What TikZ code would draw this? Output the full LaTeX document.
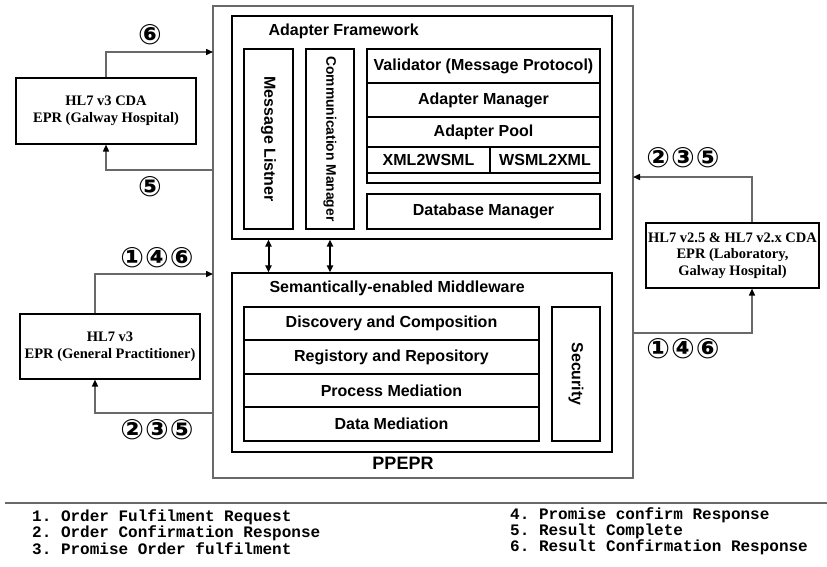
\documentclass[tikz,border=0pt]{standalone}
\usepackage{fontspec}
\setmainfont{Liberation Serif}
\setsansfont{Liberation Sans}
\setmonofont{Liberation Mono}
\newfontfamily\circfont{DejaVu Sans}
\usetikzlibrary{arrows.meta}
\definecolor{frameGray}{RGB}{105,105,105}

\begin{document}
\begin{tikzpicture}[x=1pt,y=-1pt,
  outerbox/.style={draw=frameGray, line width=1.5pt, inner sep=0pt},
  layerbox/.style={draw, line width=1.1pt, inner sep=0pt, font=\sffamily\bfseries\fontsize{16}{19}\selectfont},
  sidebox/.style={draw, line width=1.1pt, inner sep=0pt, align=center, font=\rmfamily\bfseries\fontsize{14.5}{16.5}\selectfont},
  conn/.style={draw=frameGray, line width=1.5pt, -{Triangle[length=7pt,width=6pt,color=black]}},
  dbl/.style={line width=2pt, {Triangle[length=7pt,width=6pt]}-{Triangle[length=7pt,width=6pt]}},
  steps/.style={font=\circfont\bfseries\fontsize{28}{28}\selectfont, inner sep=0pt},
  legend/.style={anchor=west, inner sep=0pt, font=\ttfamily\bfseries\fontsize{16}{18}\selectfont}]
\useasboundingbox (0,0) rectangle (827,566);

% PPEPR frame
\node[outerbox, minimum width=420pt, minimum height=472pt] (ppepr) at (423,242) {};
\node[font=\sffamily\bfseries\fontsize{18}{20}\selectfont] (ppeprlbl) at (403,463) {PPEPR};

% Adapter framework
\node[layerbox, minimum width=380pt, minimum height=223pt] (af) at (422,127.5) {};
\node[layerbox, draw=none, anchor=west] (aflbl) at (268,31) {Adapter Framework};
\node[layerbox, rotate=-90, minimum width=180pt, minimum height=49pt] (ml) at (268.5,139) {Message Listner};
\node[layerbox, rotate=-90, minimum width=180pt, minimum height=48pt, font=\sffamily\bfseries\fontsize{13.8}{16}\selectfont] (cm) at (330,139) {Communication Manager};
\node[layerbox, minimum width=233pt, minimum height=34pt] (val) at (483.5,66) {Validator (Message Protocol)};
\node[layerbox, minimum width=233pt, minimum height=34pt] (am) at (483.5,100) {Adapter Manager};
\node[layerbox, minimum width=233pt, minimum height=30pt] (ap) at (483.5,132) {Adapter Pool};
\node[layerbox, minimum width=123pt, minimum height=26pt] (x2w) at (428.5,160) {XML2WSML};
\node[layerbox, minimum width=110pt, minimum height=26pt] (w2x) at (545,160) {WSML2XML};
\node[layerbox, minimum width=233pt, minimum height=10pt] (apgap) at (483.5,178) {};
\node[layerbox, minimum width=233pt, minimum height=35pt] (db) at (483.5,211.5) {Database Manager};

% Semantic middleware
\node[layerbox, minimum width=380pt, minimum height=179pt] (mw) at (422,362.5) {};
\node[layerbox, draw=none, anchor=west] (mwlbl) at (269,288) {Semantically-enabled Middleware};
\node[layerbox, minimum width=295pt, minimum height=33pt] (dc) at (391.5,323.5) {Discovery and Composition};
\node[layerbox, minimum width=295pt, minimum height=34pt] (rr) at (391.5,357) {Registory and Repository};
\node[layerbox, minimum width=295pt, minimum height=33pt] (pm) at (391.5,390.5) {Process Mediation};
\node[layerbox, minimum width=295pt, minimum height=34pt] (dm) at (391.5,424) {Data Mediation};
\node[layerbox, rotate=-90, minimum width=134pt, minimum height=48pt] (sec) at (576,374) {Security};

% Between the two layers
\draw[dbl] (af.south -| ml) -- (mw.north -| ml);
\draw[dbl] (af.south -| cm) -- (mw.north -| cm);

% EPR systems
\node[sidebox, minimum width=180pt, minimum height=66pt] (galway) at (106,111) {HL7 v3 CDA\\EPR (Galway Hospital)};
\node[sidebox, minimum width=180pt, minimum height=65pt] (gp) at (110,346.5) {HL7 v3\\EPR (General Practitioner)};
\node[sidebox, minimum width=173pt, minimum height=65pt] (lab) at (732.5,255.5) {HL7 v2.5 \& HL7 v2.x CDA\\EPR (Laboratory,\\Galway Hospital)};

% Entry points on the frame
\coordinate (galin) at (213,52);
\coordinate (galout) at (213,170);
\coordinate (gpin) at (213,274);
\coordinate (gpout) at (213,413);
\coordinate (labin) at (633,177);
\coordinate (labout) at (633,333);

% Message flows
\draw[conn] (galway.north) |- (galin);
\draw[conn] (galout) -| (galway.south);
\draw[conn] ([xshift=-15pt]gp.north) |- (gpin);
\draw[conn] (gpout) -| ([xshift=-15pt]gp.south);
\draw[conn] ([xshift=19.5pt]lab.north) |- (labin);
\draw[conn] (labout) -| ([xshift=19.5pt]lab.south);

% Step numbers
\node[steps] (galstep6) at (150,35) {⑥};
\node[steps] (galstep5) at (150,187) {⑤};
\node[steps] (gpreq) at (157,258) {①\kern1pt④\kern1pt⑥};
\node[steps] (gpresp) at (157,430) {②\kern1pt③\kern1pt⑤};
\node[steps] (labresp) at (683,158) {②\kern1pt③\kern1pt⑤};
\node[steps] (labreq) at (683,349) {①\kern1pt④\kern1pt⑥};

% Legend
\draw[draw=frameGray, line width=1.2pt] (5,503) -- (827,503);
\node[legend] (leg1) at (32,517) {1. Order Fulfilment Request};
\node[legend] (leg2) at (32,533) {2. Order Confirmation Response};
\node[legend] (leg3) at (32,549) {3. Promise Order fulfilment};
\node[legend] (leg4) at (510,515) {4. Promise confirm Response};
\node[legend] (leg5) at (510,531) {5. Result Complete};
\node[legend] (leg6) at (510,547) {6. Result Confirmation Response};
\end{tikzpicture}
\end{document}
